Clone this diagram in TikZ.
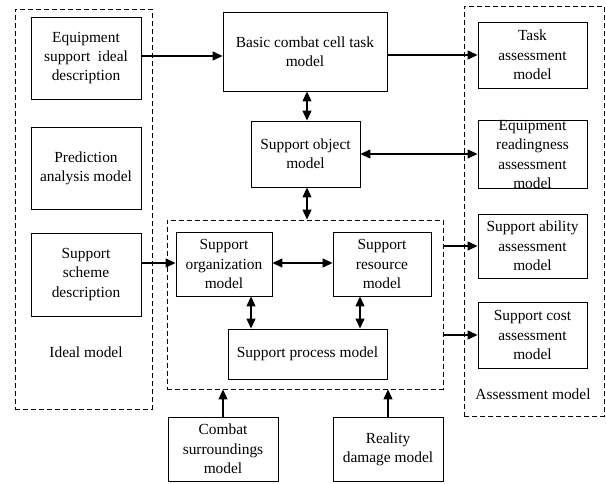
\documentclass[tikz,border=0pt]{standalone}
\usepackage{fontspec}
\setmainfont{Liberation Serif}
\usetikzlibrary{arrows.meta}
\begin{document}
\begin{tikzpicture}[x=1pt,y=-1pt,
  box/.style={draw, line width=0.9pt, align=center, inner sep=0pt,
    font=\fontsize{15.4}{19.3}\selectfont},
  dbox/.style={draw, line width=0.9pt, dash pattern=on 5pt off 3pt, inner sep=0pt},
  lbl/.style={font=\fontsize{15.4}{19.3}\selectfont, inner sep=0pt},
  arr/.style={line width=1.2pt, -{Triangle[length=10pt,width=9pt]}},
  darr/.style={line width=1.2pt, {Triangle[length=10pt,width=9pt]}-{Triangle[length=10pt,width=9pt]}}]
\useasboundingbox (0,0) rectangle (606,484);

% dashed groups
\node[dbox, minimum width=137pt, minimum height=400pt] (leftg) at (83.5,209) {};
\node[dbox, minimum width=276pt, minimum height=169pt] (inner) at (305,304.5) {};
\node[dbox, minimum width=140pt, minimum height=410pt] (rightg) at (534,211) {};

% left column
\node[box, minimum width=110pt, minimum height=82pt] (eq) at (86,58) {Equipment\\support\ \ ideal\\description};
\node[box, minimum width=110pt, minimum height=82pt] (pred) at (86,168) {Prediction\\analysis model};
\node[box, minimum width=110pt, minimum height=83pt] (scheme) at (86,274.5) {Support\\scheme\\description};
\node[lbl] (ideal) at (86,352) {Ideal model};

% center
\node[box, minimum width=164pt, minimum height=79pt] (basic) at (305,51.5) {Basic combat cell task\\model};
\node[box, minimum width=109pt, minimum height=66pt] (obj) at (305.5,154) {Support object\\model};
\node[box, minimum width=96pt, minimum height=64pt] (org) at (224,264) {Support\\organization\\model};
\node[box, minimum width=98pt, minimum height=64pt] (res) at (382,264) {Support\\resource\\model};
\node[box, minimum width=159pt, minimum height=50pt] (proc) at (307.5,354) {Support process model};
\node[box, minimum width=110pt, minimum height=64pt] (combat) at (223,449) {Combat\\surroundings\\model};
\node[box, minimum width=110pt, minimum height=64pt] (reality) at (388,449) {Reality\\damage model};

% right column
\node[box, minimum width=109pt, minimum height=66pt] (task) at (532.5,55) {Task\\assessment\\model};
\node[box, minimum width=109pt, minimum height=65pt] (ready) at (532.5,154.5) {Equipment\\readingness\\assessment\\model};
\node[box, minimum width=109pt, minimum height=64pt] (ability) at (532.5,246) {Support ability\\assessment\\model};
\node[box, minimum width=109pt, minimum height=66pt] (cost) at (532.5,335) {Support cost\\assessment\\model};
\node[lbl] (assess) at (533,394) {Assessment model};

% connectors
\draw[arr] (eq.east |- 0,56) -- (basic.west |- 0,56);
\draw[arr] (basic.east |- 0,55) -- (task.west |- 0,55);
\draw[darr] (basic.south -| 307,0) -- (obj.north -| 307,0);
\draw[darr] (obj.south -| 307,0) -- (inner.north -| 307,0);
\draw[darr] (obj.east) -- (ready.west |- obj.east);
\draw[arr] (scheme.east |- 0,263) -- (org.west |- 0,263);
\draw[darr] (org.east |- 0,263) -- (res.west |- 0,263);
\draw[darr] (org.south -| 251,0) -- (proc.north -| 251,0);
\draw[darr] (res.south -| 360,0) -- (proc.north -| 360,0);
\draw[arr] (combat.north) -- (inner.south -| combat.north);
\draw[arr] (reality.north) -- (inner.south -| reality.north);
\draw[arr] (inner.east |- ability.west) -- (ability.west);
\draw[arr] (inner.east |- cost.west) -- (cost.west);
\end{tikzpicture}
\end{document}
